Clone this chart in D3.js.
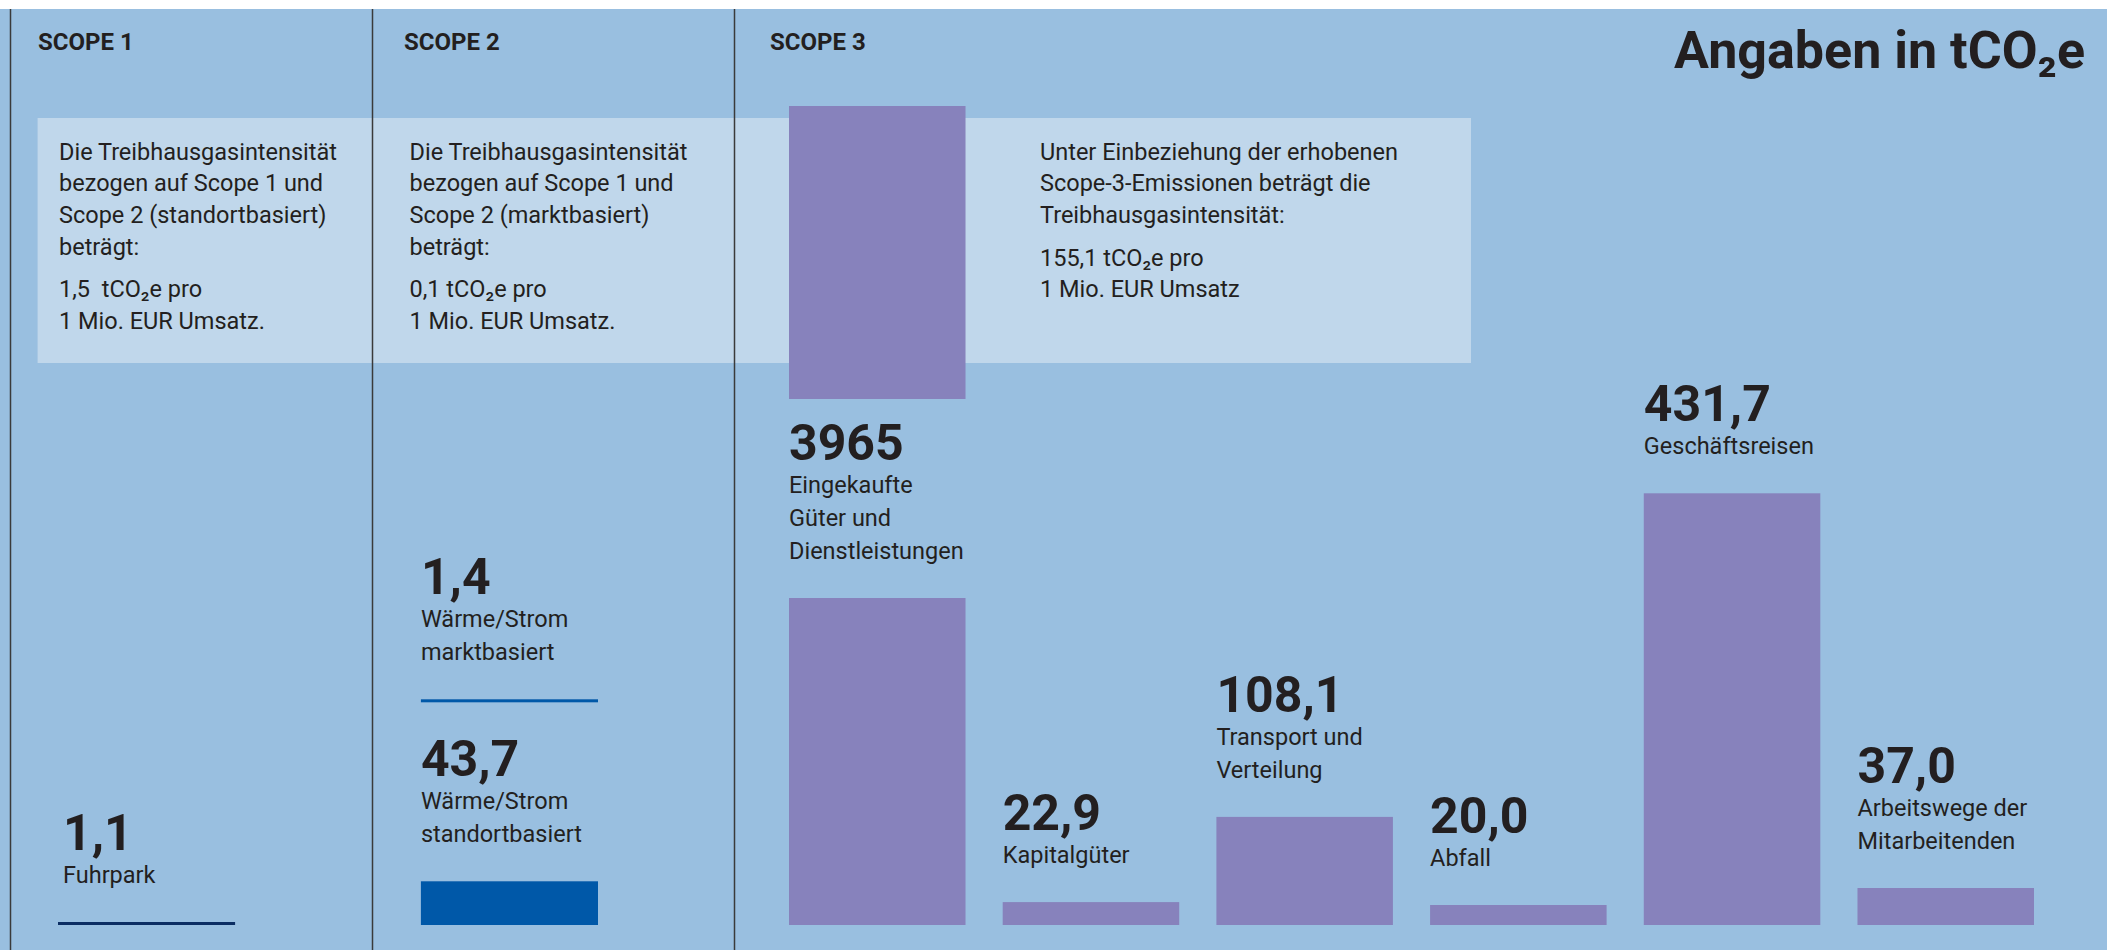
<!DOCTYPE html>
<html>
<head>
<meta charset="utf-8">
<script src="https://cdn.jsdelivr.net/npm/d3@7"></script>
<style>
  body { margin: 0; background: #fff; }
  svg { display: block; }
  text { font-family: Roboto, "Noto Sans", sans-serif; fill: #231f20; white-space: pre; }
</style>
</head>
<body>
<div id="chart"></div>
<script>
// ---- data ----
const scopeTitles = ["SCOPE 1", "SCOPE 2", "SCOPE 3"];
const unitTitle = "Angaben in tCO₂e";

const infoParagraphs = [
  [["Die Treibhausgasintensität", "bezogen auf Scope 1 und", "Scope 2 (standortbasiert)", "beträgt:"],
   ["1,5  tCO₂e pro", "1 Mio. EUR Umsatz."]],
  [["Die Treibhausgasintensität", "bezogen auf Scope 1 und", "Scope 2 (marktbasiert)", "beträgt:"],
   ["0,1 tCO₂e pro", "1 Mio. EUR Umsatz."]],
  [["Unter Einbeziehung der erhobenen", "Scope-3-Emissionen beträgt die", "Treibhausgasintensität:"],
   ["155,1 tCO₂e pro", "1 Mio. EUR Umsatz"]]
];

const scope1Categories = [["Fuhrpark"]];
const scope1Values = [1.1];

const scope2Categories = [["Wärme/Strom", "standortbasiert"], ["Wärme/Strom", "marktbasiert"]];
const scope2Values = [43.7, 1.4];

const scope3Categories = [
  ["Eingekaufte", "Güter und", "Dienstleistungen"],
  ["Kapitalgüter"],
  ["Transport und", "Verteilung"],
  ["Abfall"],
  ["Geschäftsreisen"],
  ["Arbeitswege der", "Mitarbeitenden"]
];
const scope3Values = [3965, 22.9, 108.1, 20.0, 431.7, 37.0];

// ---- layout ----
const width = 2107, height = 950, topY = 9;
const panelX = [10.5, 372.5, 734.5];
const headerX = [38, 404, 770];
const infoX = [59, 409.5, 1040];

const bg = "#99bfe0", boxFill = "#c0d7eb", purple = "#8782bc",
  blue = "#0058a8", navy = "#0b2d63";

const de = d3.formatLocale({ decimal: ",", thousands: ".", grouping: [3], currency: ["", " €"] });
const fmt = v => v >= 1000 ? d3.format("d")(v) : de.format(".1f")(v);

// 1px per tonne; a bar taller than the plot is cut between the two break values
const y = d3.scaleLinear().domain([0, 819]).range([925, 106]);
const axisBreak = [327, 526];
const minBar = 3;

const x12 = d3.scaleBand().domain([0, 1]).range([58, 598]).paddingInner(0.512);
const x3 = d3.scaleBand().domain(d3.range(scope3Values.length)).range([789, 2034]).paddingInner(0.174);

const gapToBar = 39, lineStep = 33, valueStep = 33, valueCap = 36;
const labelSize = 23.5;

const svg = d3.select("#chart")
  .append("svg")
  .attr("width", width)
  .attr("height", height);

svg.append("rect")
  .attr("x", 0).attr("y", topY)
  .attr("width", width).attr("height", height - topY)
  .attr("fill", bg);

// light info band
svg.append("rect")
  .attr("x", 37.6).attr("y", 118)
  .attr("width", 1471 - 37.6).attr("height", 363 - 118)
  .attr("fill", boxFill);

svg.append("g")
  .selectAll("line")
  .data(panelX)
  .join("line")
  .attr("x1", d => d).attr("x2", d => d)
  .attr("y1", topY).attr("y2", height)
  .attr("stroke", "#3a3a3a")
  .attr("stroke-width", 1.5);

// headers
svg.append("g")
  .attr("font-size", 24)
  .attr("font-weight", "bold")
  .selectAll("text")
  .data(scopeTitles)
  .join("text")
  .attr("x", (d, i) => headerX[i])
  .attr("y", 49.5)
  .text(d => d);

svg.append("text")
  .attr("x", 2085)
  .attr("y", 68)
  .attr("text-anchor", "end")
  .attr("font-size", 52)
  .attr("font-weight", "bold")
  .text(unitTitle);

// info texts
const infoG = svg.append("g").attr("font-size", labelSize);
infoParagraphs.forEach((paras, i) => {
  let yy = 159.5;
  paras.forEach((lines, p) => {
    if (p > 0) yy += 11;
    lines.forEach(l => {
      infoG.append("text").attr("x", infoX[i]).attr("y", yy).text(l);
      yy += 31.7;
    });
  });
});

// ---- bars ----
const bars = [];
bars.push({ x: x12(0), w: x12.bandwidth(), base: y(0), value: scope1Values[0], lines: scope1Categories[0], color: navy, dx: 5 });
bars.push({ x: x12(1), w: x12.bandwidth(), base: y(0), value: scope2Values[0], lines: scope2Categories[0], color: blue });

// market-based value sits above the label block of the location-based one
const standortTop = y(scope2Values[0]);
const standortValueY = standortTop - gapToBar - (scope2Categories[0].length - 1) * lineStep - valueStep;
bars.push({ x: x12(1), w: x12.bandwidth(), base: standortValueY - valueCap - 38, value: scope2Values[1], lines: scope2Categories[1], color: blue });

scope3Values.forEach((v, i) => {
  bars.push({ x: x3(i), w: x3.bandwidth(), base: y(0), value: v, lines: scope3Categories[i], color: purple });
});

bars.forEach(b => {
  const g = svg.append("g");
  let anchorTop;
  if (b.value > y.domain()[1]) {
    anchorTop = y(axisBreak[0]);
    g.append("rect")
      .attr("x", b.x).attr("width", b.w)
      .attr("y", anchorTop).attr("height", y(0) - anchorTop)
      .attr("fill", b.color);
    const upTop = y(y.domain()[1]);
    g.append("rect")
      .attr("x", b.x).attr("width", b.w)
      .attr("y", upTop).attr("height", y(axisBreak[1]) - upTop)
      .attr("fill", b.color);
  } else {
    const h = Math.max(y(0) - y(b.value), minBar);
    anchorTop = b.base - h;
    g.append("rect")
      .attr("x", b.x).attr("width", b.w)
      .attr("y", anchorTop).attr("height", h)
      .attr("fill", b.color);
  }

  const n = b.lines.length;
  const lastY = anchorTop - gapToBar;
  const tx = b.x + (b.dx || 0);
  g.selectAll("text.cat")
    .data(b.lines)
    .join("text")
    .attr("class", "cat")
    .attr("x", tx)
    .attr("y", (d, i) => lastY - (n - 1 - i) * lineStep)
    .attr("font-size", labelSize)
    .text(d => d);

  g.append("text")
    .attr("x", tx)
    .attr("y", lastY - (n - 1) * lineStep - valueStep)
    .attr("font-size", 50)
    .attr("font-weight", "bold")
    .text(fmt(b.value));
});
</script>
</body>
</html>
